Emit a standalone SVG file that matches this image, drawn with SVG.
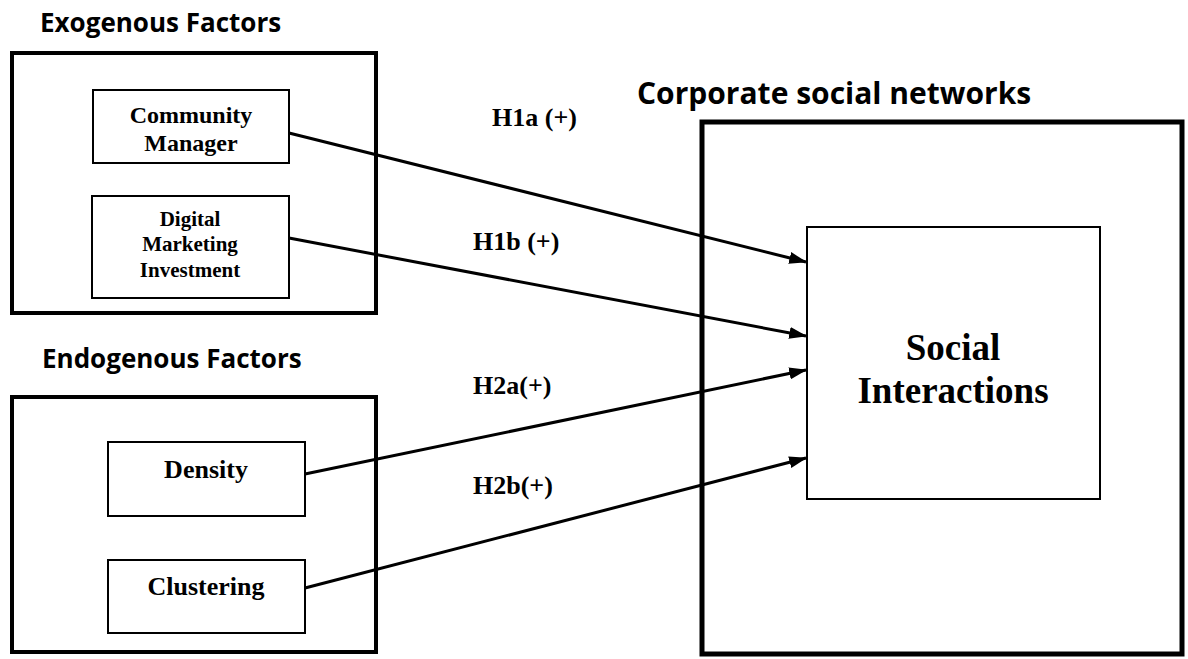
<svg xmlns="http://www.w3.org/2000/svg" width="1188" height="659" viewBox="0 0 1188 659">
<defs>
<style>
.title{font-family:"Open Sans","Liberation Sans",sans-serif;font-weight:bold;fill:#000}
.serif{font-family:"Liberation Serif","Times New Roman",serif;font-weight:bold;fill:#000;text-anchor:middle}
.lbl{font-family:"Liberation Serif","Times New Roman",serif;font-weight:bold;fill:#000;font-size:26px}
.outer{fill:none;stroke:#000;stroke-width:4}
.inner{fill:#fff;stroke:#000;stroke-width:2}
.conn{fill:none;stroke:#000;stroke-width:3}
</style>
<marker id="arr" markerWidth="6" markerHeight="4" refX="5.6" refY="2" orient="auto" markerUnits="strokeWidth">
<path d="M0,0 L6,2 L0,4 Z" fill="#000"/>
</marker>
</defs>
<rect width="1188" height="659" fill="#fff"/>

<g id="exogenous">
<text class="title" x="40" y="32" font-size="26">Exogenous Factors</text>
<rect class="outer" x="12" y="53" width="364" height="260"/>
</g>
<g id="endogenous">
<text class="title" x="42" y="368" font-size="26">Endogenous Factors</text>
<rect class="outer" x="12" y="397" width="364" height="255"/>
</g>
<g id="corporate">
<text class="title" x="637" y="104" font-size="30">Corporate social networks</text>
<rect x="702" y="122" width="480" height="532" fill="none" stroke="#000" stroke-width="5"/>
</g>

<g id="community-manager">
<rect class="inner" x="93" y="90" width="196" height="73"/>
<text class="serif" x="191" y="123" font-size="24">Community</text>
<text class="serif" x="191" y="151" font-size="24">Manager</text>
</g>
<g id="digital-marketing">
<rect class="inner" x="92" y="196" width="197" height="102"/>
<text class="serif" x="190" y="226" font-size="21">Digital</text>
<text class="serif" x="190" y="251" font-size="21">Marketing</text>
<text class="serif" x="190" y="277" font-size="21">Investment</text>
</g>
<g id="density">
<rect class="inner" x="108" y="442" width="197" height="74"/>
<text class="serif" x="206" y="478" font-size="26">Density</text>
</g>
<g id="clustering">
<rect class="inner" x="108" y="560" width="197" height="73"/>
<text class="serif" x="206" y="595" font-size="26">Clustering</text>
</g>
<g id="social-interactions">
<rect class="inner" x="807" y="227" width="293" height="272"/>
<text class="serif" x="953" y="360" font-size="37">Social</text>
<text class="serif" x="953" y="403" font-size="37">Interactions</text>
</g>

<g id="connectors">
<line class="conn" x1="289" y1="133" x2="806" y2="262" marker-end="url(#arr)"/>
<line class="conn" x1="289" y1="238" x2="806" y2="336" marker-end="url(#arr)"/>
<line class="conn" x1="305" y1="474" x2="806" y2="370" marker-end="url(#arr)"/>
<line class="conn" x1="305" y1="588" x2="806" y2="458" marker-end="url(#arr)"/>
<text class="lbl" x="492" y="126">H1a (+)</text>
<text class="lbl" x="473" y="250">H1b (+)</text>
<text class="lbl" x="473" y="394">H2a(+)</text>
<text class="lbl" x="473" y="494">H2b(+)</text>
</g>
</svg>
